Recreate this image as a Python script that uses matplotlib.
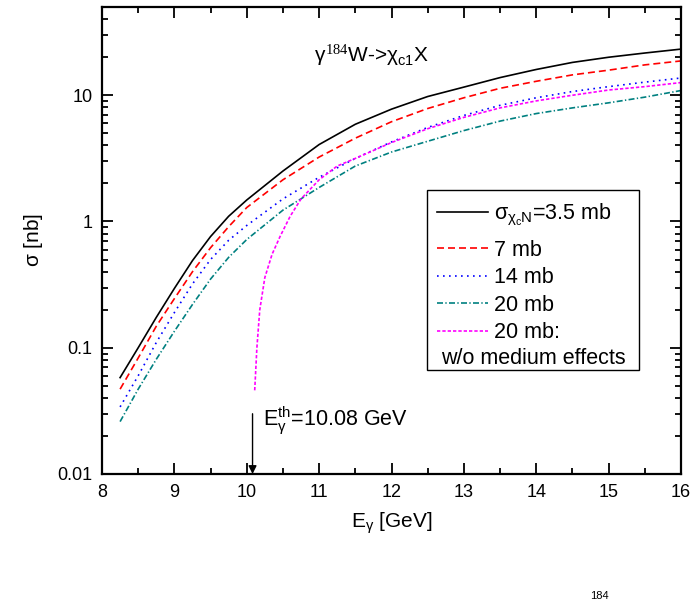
import matplotlib
matplotlib.use("Agg")
import matplotlib.pyplot as plt
from matplotlib.patches import Rectangle
from matplotlib.ticker import LogLocator, NullFormatter, MultipleLocator

plt.rcParams['font.family'] = ['Liberation Sans', 'DejaVu Sans']
plt.rcParams['mathtext.fontset'] = 'custom'
plt.rcParams['mathtext.rm'] = 'Liberation Sans'
plt.rcParams['mathtext.it'] = 'Liberation Sans'
plt.rcParams['mathtext.sf'] = 'Liberation Serif'

# photon energy grid [GeV]
e_gamma = [8.25, 8.5, 8.75, 9.0, 9.25, 9.5, 9.75, 10.0, 10.5, 11.0,
           11.5, 12.0, 12.5, 13.0, 13.5, 14.0, 14.5, 15.0, 15.5, 16.0]
# cross sections [nb]
sig_35 = [0.058, 0.100, 0.174, 0.295, 0.49, 0.76, 1.10, 1.48, 2.51, 4.07,
          5.89, 7.76, 9.77, 11.6, 13.8, 16.0, 18.2, 20.0, 21.6, 23.2]
sig_7 = [0.047, 0.083, 0.148, 0.245, 0.40, 0.62, 0.91, 1.29, 2.14, 3.24,
         4.57, 6.17, 7.85, 9.55, 11.35, 12.9, 14.5, 15.8, 17.4, 18.7]
sig_14 = [0.034, 0.060, 0.110, 0.19, 0.32, 0.50, 0.71, 0.93, 1.51, 2.24,
          3.16, 4.27, 5.56, 6.92, 8.32, 9.55, 10.7, 11.7, 12.7, 13.7]
sig_20 = [0.026, 0.047, 0.081, 0.135, 0.22, 0.35, 0.52, 0.72, 1.23, 1.86,
          2.75, 3.55, 4.32, 5.25, 6.24, 7.16, 7.94, 8.71, 9.66, 10.9]
# 20 mb without medium effects
e_free = [10.11, 10.14, 10.18, 10.25, 10.35, 10.46, 10.6, 10.75, 11.0, 11.25,
          11.5, 12.0, 12.5, 13.0, 13.5, 14.0, 14.5, 15.0, 15.5, 16.0]
sig_free = [0.046, 0.10, 0.20, 0.36, 0.55, 0.76, 1.10, 1.51, 2.14, 2.75,
            3.16, 4.22, 5.43, 6.68, 7.94, 9.02, 10.0, 11.0, 11.7, 12.6]

e_th = 10.08

fig = plt.figure(figsize=(6.99, 6.02), dpi=100)
ax = fig.add_axes([102/699, 1-474/602, 579/699, 467/602])

ax.plot(e_gamma, sig_35, color='black', lw=1.2, label=r'$\sigma_{\chi_{c}N}$=3.5 mb')
ax.plot(e_gamma, sig_7, color='#ff0000', lw=1.2, dashes=(4.2, 2.4), label='7 mb')
ax.plot(e_gamma, sig_14, color='#0000ff', lw=1.2, dashes=(1, 2.6), label='14 mb')
ax.plot(e_gamma, sig_20, color='#008080', lw=1.2, dashes=(3.6, 1.4, 0.8, 1.4), label='20 mb')
ax.plot(e_free, sig_free, color='#ff00ff', lw=1.2, dashes=(2, 1.2), label='20 mb:')

ax.set_yscale('log')
ax.set_xlim(8, 16)
ax.set_ylim(0.01, 50)
ax.set_yticks([0.01, 0.1, 1, 10])
ax.set_yticklabels(['0.01', '0.1', '1', '10'])
ax.yaxis.set_minor_locator(LogLocator(base=10, subs=range(2, 10)))
ax.yaxis.set_minor_formatter(NullFormatter())
ax.xaxis.set_major_locator(MultipleLocator(1))
ax.xaxis.set_minor_locator(MultipleLocator(0.5))
ax.tick_params(which='both', direction='in', top=True, right=True, width=1.3, labelsize=13, pad=7)
ax.tick_params(which='major', length=8)
ax.tick_params(which='minor', length=4.5)
for s in ax.spines.values():
    s.set_linewidth(1.6)

ax.set_xlabel(r'E$_\gamma$ [GeV]', fontsize=15, labelpad=7)
ax.set_ylabel(r'$\sigma$ [nb]', fontsize=15, labelpad=9)

ax.text(0.366, 0.897, r'$\gamma^{\mathsf{184}}$W->$\chi_{c1}$X', transform=ax.transAxes,
        fontsize=15, ha='left', va='center')

ax.annotate('', xy=(e_th, 0.01), xytext=(e_th, 0.030),
            arrowprops=dict(arrowstyle='-|>', color='black', lw=1.0, mutation_scale=12,
                            shrinkA=0, shrinkB=0))
ax.text(10.22, 0.0265, r'E$_\gamma^{th}$=10.08 GeV', fontsize=15.5, ha='left', va='center')

# legend box drawn separately so its size matches
box = Rectangle((427/699, 1-370/602), 212/699, 180/602, transform=fig.transFigure,
                facecolor='white', edgecolor='black', lw=1.0, zorder=4)
fig.patches.append(box)

handles, labels = ax.get_legend_handles_labels()
leg_kw = dict(loc='upper left', bbox_transform=fig.transFigure, borderaxespad=0,
              fontsize=15.5, handlelength=2.37, handletextpad=0.28, labelspacing=0.3,
              frameon=False, borderpad=0.45)
leg1 = fig.legend(handles[:1], labels[:1], bbox_to_anchor=(427/699, 1-192/602), **leg_kw)
leg2 = fig.legend(handles[1:], labels[1:], bbox_to_anchor=(427/699, 1-230/602), **leg_kw)
leg1.set_zorder(6)
leg2.set_zorder(6)
fig.text(441/699, 1-358/602, 'w/o medium effects', fontsize=15.5, ha='left', va='center',
         zorder=10)

fig.text(590/699, 1-601/602, '184', fontsize=8, ha='left', va='bottom')

fig.savefig('out.png', dpi=100)
